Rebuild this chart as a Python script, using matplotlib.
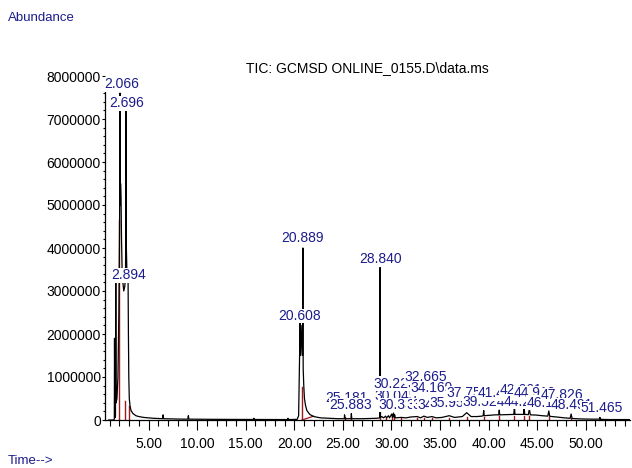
import matplotlib
matplotlib.use("Agg")
import matplotlib.pyplot as plt
from matplotlib.ticker import MultipleLocator, FuncFormatter

plt.rcParams['font.family'] = ['Liberation Sans', 'DejaVu Sans']

BLUE = "#1c1c8c"
RED = "#a01818"

# chromatogram trace (retention time in min, abundance)
rt = [0.9, 1.40, 1.48, 1.50, 1.53, 1.60, 1.63, 1.66, 1.75, 1.85, 1.95, 2.02, 2.066, 2.09,
      2.12, 2.17, 2.22, 2.28, 2.36, 2.45, 2.55, 2.63, 2.67, 2.696, 2.72, 2.78, 2.85, 2.894,
      2.93, 2.97, 3.02, 3.10, 3.20, 3.40, 3.70, 4.00, 4.50, 5.00, 5.50, 6.00, 6.45, 6.50,
      6.55, 7.50, 8.50, 9.05, 9.10, 9.15, 12.0, 15.80, 15.85, 15.90, 19.30, 19.35, 19.40,
      20.30, 20.45, 20.55, 20.608, 20.65, 20.70, 20.78, 20.85, 20.889, 20.92, 20.98, 21.05,
      21.15, 21.30, 21.60, 22.00, 22.70, 23.50, 24.50, 25.15, 25.18, 25.21, 25.85, 25.88,
      25.91, 27.00, 28.50, 28.80, 28.84, 28.88, 29.00, 29.20, 29.40, 29.50, 29.70, 29.80,
      30.04, 30.10, 30.22, 30.30, 30.33, 30.40, 31.00, 31.50, 32.00, 32.66, 33.00, 33.34,
      33.70, 34.17, 34.60, 35.20, 35.95, 36.50, 37.30, 37.75, 38.20, 38.80, 39.30, 39.45,
      39.50, 39.55, 40.20, 40.70, 41.05, 41.10, 41.15, 41.80, 42.40, 42.60, 42.66, 42.72,
      43.10, 43.60, 43.66, 43.72, 44.10, 44.20, 44.30, 44.90, 45.50, 46.10, 46.20, 46.30,
      47.00, 47.80, 48.40, 48.50, 48.60, 49.50, 50.50, 51.40, 51.465, 51.50, 52.50, 54.50]
abundance = [0, 0, 20000, 1900000, 50000, 100000, 3400000, 400000, 500000, 1000000, 2500000,
             4500000, 7600000, 5000000, 5500000, 5200000, 4200000, 3500000, 3200000, 3000000,
             3100000, 3300000, 5000000, 7400000, 4000000, 3400000, 3200000, 3300000, 2000000,
             1000000, 500000, 320000, 220000, 150000, 100000, 80000, 60000, 50000, 40000,
             35000, 30000, 120000, 30000, 25000, 20000, 20000, 100000, 20000, 15000, 12000,
             40000, 12000, 10000, 40000, 10000, 15000, 100000, 1500000, 2300000, 1500000,
             2200000, 1800000, 1500000, 4000000, 1200000, 800000, 500000, 350000, 220000,
             130000, 80000, 50000, 40000, 30000, 30000, 120000, 30000, 30000, 150000, 30000,
             30000, 40000, 50000, 3550000, 60000, 80000, 50000, 90000, 50000, 100000, 50000,
             140000, 60000, 160000, 60000, 120000, 50000, 60000, 50000, 70000, 80000, 50000,
             90000, 60000, 80000, 50000, 60000, 100000, 60000, 80000, 170000, 80000, 80000,
             90000, 100000, 220000, 100000, 110000, 120000, 120000, 230000, 120000, 125000,
             130000, 130000, 320000, 130000, 130000, 130000, 320000, 130000, 125000, 260000,
             120000, 115000, 100000, 90000, 210000, 85000, 70000, 50000, 40000, 140000, 35000,
             25000, 20000, 20000, 60000, 15000, 10000, 10000]

# peak-integration markers (red): time, height
red_times = [2.00, 2.62, 2.97, 20.80, 25.18, 25.88, 28.82, 29.40, 30.05, 30.30, 31.00,
             32.66, 33.34, 34.17, 35.95, 37.75, 39.50, 41.10, 42.66, 43.66, 44.20, 46.20,
             48.50, 51.47]
red_heights = [4650000, 450000, 330000, 770000, 60000, 60000, 60000, 50000, 60000, 60000,
               50000, 50000, 50000, 50000, 50000, 60000, 80000, 90000, 100000, 100000,
               90000, 70000, 50000, 40000]

# peak labels: text, centre time, label height
label_text = ["2.066", "2.696", "2.894", "20.608", "20.889", "28.840", "25.181", "25.883",
              "30.045", "30.223", "30.333", "32.665", "31.357", "33.342", "34.169", "34.925",
              "35.959", "37.757", "39.524", "41.426", "42.661", "44.242", "44.919", "46.152",
              "47.826", "48.491", "51.465"]
label_t = [2.20, 2.75, 2.95, 20.55, 20.85, 28.85, 25.33, 25.84, 30.45, 30.30, 30.80, 33.55,
           33.70, 34.35, 34.15, 34.90, 36.10, 37.80, 39.50, 41.10, 43.30, 43.80, 44.70,
           46.10, 47.60, 48.60, 51.60]
label_y = [7810000, 7370000, 3370000, 2420000, 4230000, 3740000, 510000, 350000, 560000,
           840000, 350000, 1000000, 340000, 340000, 740000, 360000, 400000, 620000, 420000,
           620000, 690000, 420000, 620000, 400000, 580000, 350000, 280000]
# drawing order of clutter labels (later ones cover earlier ones)
label_order = [0, 1, 2, 3, 4, 5, 6, 7, 8, 9, 10, 11, 12, 13, 14, 15, 16, 17, 18, 19, 20,
               21, 22, 23, 24, 25, 26]

xtick_values = [5, 10, 15, 20, 25, 30, 35, 40, 45, 50]

fig = plt.figure(figsize=(6.32, 4.68), dpi=100)
ax = fig.add_axes([105 / 632, 48 / 468, 525 / 632, 344 / 468])

ax.plot(rt, abundance, color="black", lw=0.9, zorder=3)
for t, h in zip(red_times, red_heights):
    ax.plot([t, t], [0, h], color=RED, lw=1.0, zorder=2)
ax.plot([20.80, 22.0], [0, 90000], color=RED, lw=0.9, zorder=2)

for z, i in enumerate(label_order):
    ax.text(label_t[i], label_y[i], label_text[i], color=BLUE, fontsize=10,
            ha="center", va="center", zorder=10 + z,
            bbox=dict(facecolor="white", edgecolor="none", pad=0.3))

ax.set_xlim(0.52, 54.56)
ax.set_ylim(0, 8000000)
ax.set_xticks(xtick_values)
ax.xaxis.set_major_formatter(FuncFormatter(lambda v, p: f"{v:.2f}"))
ax.xaxis.set_minor_locator(MultipleLocator(1))
ax.yaxis.set_major_locator(MultipleLocator(1000000))
ax.yaxis.set_minor_locator(MultipleLocator(200000))
ax.yaxis.set_major_formatter(FuncFormatter(lambda v, p: f"{int(v)}"))
ax.tick_params(axis="x", which="major", length=7, width=0.8, labelsize=10, pad=5)
ax.tick_params(axis="x", which="minor", length=4, width=0.8)
ax.tick_params(axis="y", which="major", length=2, width=0.8, labelsize=10, pad=1)
ax.tick_params(axis="y", which="minor", length=1.5, width=0.8)

for s in ["top", "right"]:
    ax.spines[s].set_visible(False)
ax.spines["left"].set_bounds(0, 7800000)
ax.spines["left"].set_linewidth(0.9)
ax.spines["bottom"].set_linewidth(0.9)

fig.text(8 / 632, 1 - 18 / 468, "Abundance", color=BLUE, fontsize=9.5, ha="left", va="center")
fig.text(8 / 632, 1 - 461 / 468, "Time-->", color=BLUE, fontsize=9.5, ha="left", va="center")
fig.text(367 / 632, 1 - 68 / 468, "TIC: GCMSD ONLINE_0155.D\\data.ms", color="black",
         fontsize=10, ha="center", va="center")

fig.savefig("out.png", dpi=100, facecolor="white")
